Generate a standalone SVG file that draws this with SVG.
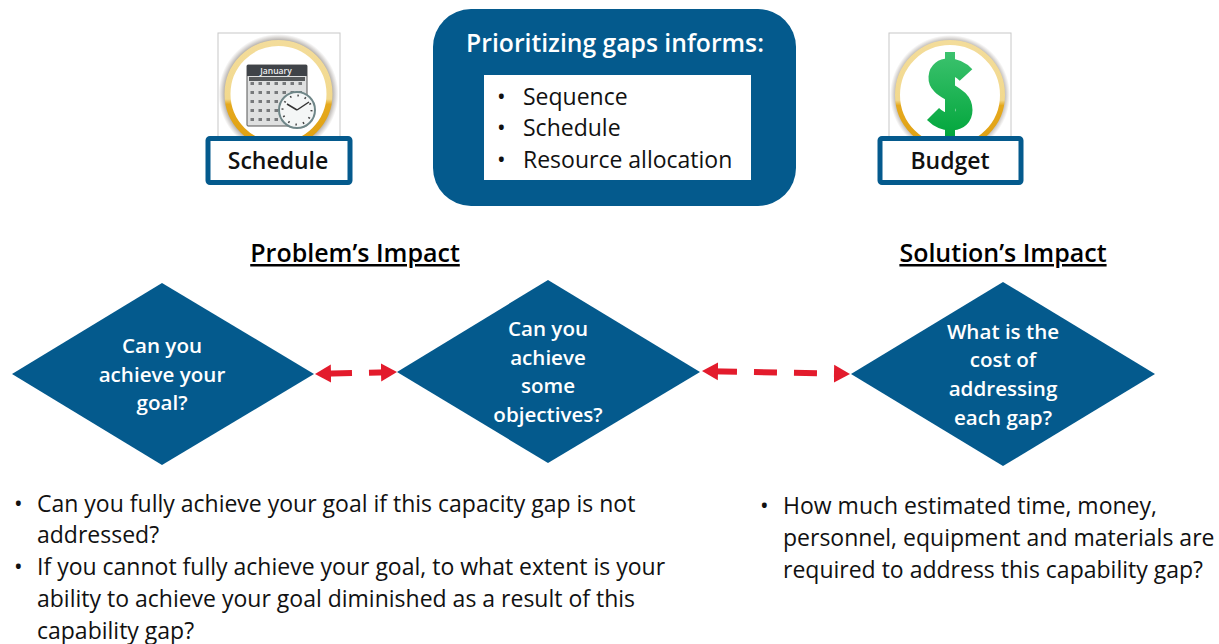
<svg xmlns="http://www.w3.org/2000/svg" width="1219" height="644" viewBox="0 0 1219 644">
<defs>
<radialGradient id="halo"><stop offset="0.84" stop-color="#6f6860" stop-opacity="0.85"/><stop offset="1" stop-color="#8a8078" stop-opacity="0"/></radialGradient>
<linearGradient id="ring" x1="0" y1="0" x2="0" y2="1"><stop offset="0" stop-color="#f3dc9a"/><stop offset="0.55" stop-color="#f2d98e"/><stop offset="0.6" stop-color="#e5a91e"/><stop offset="1" stop-color="#e0a010"/></linearGradient>
<linearGradient id="green" gradientUnits="userSpaceOnUse" x1="0" y1="52" x2="0" y2="137"><stop offset="0" stop-color="#3cc26e"/><stop offset="1" stop-color="#02a63c"/></linearGradient>
<pattern id="cells" patternUnits="userSpaceOnUse" x="249" y="80" width="8" height="9"><rect x="1.500" y="2" width="3.500" height="3" fill="#77797b"/></pattern>
<marker id="ah" markerUnits="userSpaceOnUse" markerWidth="18" markerHeight="20" refX="8" refY="10" orient="auto-start-reverse"><path d="M0 1L16 10L0 19Z" fill="#e31b2c"/></marker>
</defs>
<style>
text{font-family:"Open Sans","Noto Sans","Liberation Sans",sans-serif}
.d{fill:#045a8d}
.t{fill:#fff;font-size:20.6px;font-weight:600;text-anchor:middle}
.h{fill:#000;font-size:25px;font-weight:600;text-anchor:middle;text-decoration:underline}
.b{fill:#111;font-size:23px}
.l{fill:#fff;stroke:#045a8d;stroke-width:5}
.lb{fill:#111;font-size:23px;font-weight:600;text-anchor:middle}
.icon{fill:#fff;stroke:#c8c8c8;stroke-width:1}
.c{fill:none;stroke:#e31b2c;stroke-width:6;marker-start:url(#ah);marker-end:url(#ah)}
</style>
<g id="schedule-icon">
<rect class="icon" x="218" y="33" width="122" height="110"/>
<circle cx="278.500" cy="94" r="60" fill="url(#halo)"/>
<circle cx="278.500" cy="94" r="51" fill="#fff" stroke="url(#ring)" stroke-width="6"/>
<rect x="247" y="65" width="60" height="61" rx="1" fill="#dfe0e0" stroke="#555"/>
<rect x="247" y="65" width="60" height="11" fill="#3f4348"/>
<text x="276" y="74" font-size="8.500" fill="#eee" text-anchor="middle" font-weight="600">January</text>
<rect x="249" y="77" width="56" height="4" fill="#55585a"/>
<rect x="249" y="82" width="56" height="42" fill="url(#cells)"/>
<circle cx="297" cy="110" r="18" fill="#f4f6f6" stroke="#6f8688" stroke-width="2"/>
<circle cx="297" cy="110" r="14.500" fill="none" stroke="#444" stroke-width="2" stroke-dasharray="1.500 6.090"/>
<path d="M297 110L287 104M297 110L309 102" stroke="#333" stroke-width="1.500" fill="none"/>
</g>
<g id="schedule"><rect class="l" x="208" y="138.500" width="142" height="44" rx="2"/><text class="lb" x="278" y="169">Schedule</text></g>
<g id="budget-icon">
<rect class="icon" x="889" y="33" width="122" height="110"/>
<circle cx="950" cy="95" r="60" fill="url(#halo)"/>
<circle cx="950" cy="95" r="52.500" fill="#fff" stroke="url(#ring)" stroke-width="5"/>
<path d="M945 52H955V137H945Z" fill="url(#green)"/>
<path d="M966 75C957 65 938 63 937 77C936 92 964 92 964 110C964 125 944 125 933 114" fill="none" stroke="url(#green)" stroke-width="17"/>
</g>
<g id="budget"><rect class="l" x="880" y="138.500" width="141" height="44" rx="2"/><text class="lb" x="950" y="169">Budget</text></g>
<g id="prioritizing">
<rect x="433" y="9" width="363" height="197" rx="38" fill="#045a8d"/>
<text x="615" y="52" font-size="24.700" font-weight="600" fill="#fff" text-anchor="middle">Prioritizing gaps informs:</text>
<rect x="484" y="75" width="267" height="105" fill="#fff"/>
<g class="b"><text x="497" y="105">•</text><text x="523" y="105">Sequence</text><text x="497" y="136">•</text><text x="523" y="136">Schedule</text><text x="497" y="168">•</text><text x="523" y="168">Resource allocation</text></g>
</g>
<text class="h" x="355" y="262">Problem’s Impact</text>
<text class="h" x="1003" y="262">Solution’s Impact</text>
<g id="d1"><path class="d" d="M12 374L162 283L314 374L162 465Z"/><text class="t" x="162" y="353">Can you</text><text class="t" x="162" y="382">achieve your</text><text class="t" x="162" y="410">goal?</text></g>
<g id="d2"><path class="d" d="M397 372L548 280L700 372L548 463Z"/><text class="t" x="548" y="336">Can you</text><text class="t" x="548" y="365">achieve</text><text class="t" x="548" y="393">some</text><text class="t" x="548" y="422">objectives?</text></g>
<g id="d3"><path class="d" d="M851 374L1003 282L1155 374L1003 466Z"/><text class="t" x="1003" y="339">What is the</text><text class="t" x="1003" y="367">cost of</text><text class="t" x="1003" y="396">addressing</text><text class="t" x="1003" y="425">each gap?</text></g>
<g id="connectors">
<path class="c" d="M323 373.800L389 372.200" stroke-dasharray="29 17 20"/>
<path class="c" d="M710 371.200L842 373.800" stroke-dasharray="27 17 23 17 23 17 8"/>
</g>
<g class="b">
<text x="14" y="512">•</text><text x="37" y="512">Can you fully achieve your goal if this capacity gap is not</text>
<text x="37" y="543">addressed?</text>
<text x="14" y="575">•</text><text x="37" y="575">If you cannot fully achieve your goal, to what extent is your</text>
<text x="37" y="607">ability to achieve your goal diminished as a result of this</text>
<text x="37" y="639">capability gap?</text>
<text x="760" y="514">•</text><text x="783" y="514">How much estimated time, money,</text>
<text x="783" y="546">personnel, equipment and materials are</text>
<text x="783" y="578">required to address this capability gap?</text>
</g>
</svg>
